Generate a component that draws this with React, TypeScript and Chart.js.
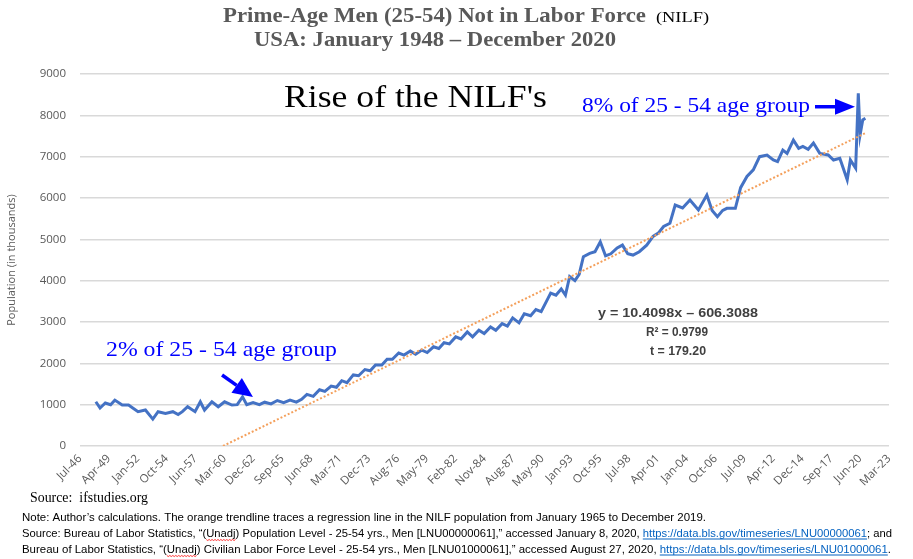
import { useEffect, useRef } from "react"
import { Chart, registerables } from "chart.js"

Chart.register(...registerables)

// Excel date axis: major unit of 1000 days starting Jul-46
const tickLabels = [
  "Jul-46", "Apr-49", "Jan-52", "Oct-54", "Jun-57", "Mar-60", "Dec-62", "Sep-65",
  "Jun-68", "Mar-71", "Dec-73", "Aug-76", "May-79", "Feb-82", "Nov-84", "Aug-87",
  "May-90", "Jan-93", "Oct-95", "Jul-98", "Apr-01", "Jan-04", "Oct-06", "Jul-09",
  "Apr-12", "Dec-14", "Sep-17", "Jun-20", "Mar-23",
]
const tickStart = 1946.5
const tickStep = 1000 / 365.25

// observation dates (decimal years) and NILF population, thousands
const obsYear = [
  1948.0, 1948.4, 1948.9, 1949.4, 1949.8, 1950.5, 1951.1, 1951.5, 1952.0, 1952.7,
  1953.4, 1953.9, 1954.6, 1955.3, 1955.8, 1956.2, 1956.7, 1957.4, 1957.9, 1958.3,
  1959.0, 1959.6, 1960.2, 1960.9, 1961.4, 1961.9, 1962.3, 1962.9, 1963.5, 1964.0,
  1964.6, 1965.2, 1965.8, 1966.4, 1967.0, 1967.5, 1968.0, 1968.6, 1969.2, 1969.7,
  1970.3, 1970.8, 1971.3, 1971.8, 1972.4, 1972.9, 1973.5, 1974.0, 1974.5, 1975.1,
  1975.6, 1976.1, 1976.7, 1977.2, 1977.8, 1978.3, 1978.9, 1979.4, 1980.0, 1980.5,
  1981.0, 1981.5, 1982.1, 1982.6, 1983.2, 1983.7, 1984.3, 1984.8, 1985.4, 1985.9,
  1986.5, 1987.0, 1987.5, 1988.1, 1988.6, 1989.2, 1989.7, 1990.2, 1990.7, 1991.1,
  1991.6, 1992.1, 1992.5, 1992.9, 1993.4, 1993.8, 1994.2, 1994.8, 1995.3, 1995.8,
  1996.3, 1996.8, 1997.4, 1997.9, 1998.4, 1998.9, 1999.5, 2000.2, 2000.8, 2001.3,
  2001.8, 2002.4, 2002.9, 2003.6, 2004.3, 2005.1, 2005.9, 2006.4, 2006.9, 2007.4,
  2007.8, 2008.6, 2009.1, 2009.7, 2010.3, 2010.9, 2011.6, 2012.2, 2012.6, 2013.1,
  2013.5, 2014.1, 2014.6, 2015.0, 2015.5, 2016.0, 2016.6, 2017.4, 2017.9, 2018.5,
  2019.2, 2019.5, 2020.0, 2020.25, 2020.42, 2020.67, 2020.92,
]
const nilfValues = [
  1070, 920, 1040, 1000, 1110, 990, 990, 920, 830, 870,
  650, 830, 790, 830, 760, 830, 950, 830, 1070, 870,
  1070, 950, 1070, 990, 1000, 1190, 1000, 1050, 1000, 1060,
  1020, 1100, 1050, 1110, 1060, 1130, 1250, 1200, 1360, 1320,
  1450, 1420, 1580, 1530, 1720, 1700, 1850, 1820, 1960, 1960,
  2100, 2100, 2250, 2200, 2300, 2220, 2320, 2260, 2400, 2360,
  2500, 2470, 2640, 2590, 2760, 2640, 2800, 2720, 2880, 2800,
  2960, 2900, 3100, 2980, 3200, 3150, 3300, 3250, 3500, 3700,
  3650, 3800, 3650, 4100, 4000, 4150, 4580, 4660, 4700, 4940,
  4600, 4650, 4790, 4860, 4650, 4620, 4700, 4860, 5070, 5150,
  5310, 5390, 5830, 5760, 5950, 5710, 6070, 5700, 5550, 5700,
  5750, 5750, 6250, 6520, 6680, 7000, 7040, 6920, 6880, 7160,
  7080, 7400, 7200, 7250, 7180, 7330, 7080, 7040, 6920, 6960,
  6440, 6920, 6720, 8535, 7530, 7890, 7930,
]

// orange regression trendline end points
const trendYear = [1960.05, 2020.92]
const trendValue = [0, 7570]

// annotation arrows in data space: [x0, y0, x1, y1]
const arrowTop = [2016.15, 8208, 2019.94, 8208]
const arrowLow = [1959.96, 1717, 1962.89, 1185]

type Seg = { text: string; color?: string; link?: boolean; squiggle?: boolean }

function drawLine(ctx: CanvasRenderingContext2D, segs: Seg[], x: number, y: number, font: string, color: string, width?: number) {
  ctx.font = font
  const total = segs.reduce((s, g) => s + ctx.measureText(g.text).width, 0)
  const sx = width ? width / total : 1
  ctx.save()
  ctx.translate(x, y)
  ctx.scale(sx, 1)
  ctx.textAlign = "left"
  ctx.textBaseline = "alphabetic"
  let cx = 0
  for (const g of segs) {
    const w = ctx.measureText(g.text).width
    ctx.fillStyle = g.color || color
    ctx.fillText(g.text, cx, 0)
    if (g.link) ctx.fillRect(cx, 1.5, w, 1)
    if (g.squiggle) {
      ctx.strokeStyle = "#ff0000"
      ctx.lineWidth = 0.8
      ctx.beginPath()
      for (let i = 0; i <= w; i += 1.5) {
        const yy = 2.5 + (Math.round(i / 1.5) % 2 ? 1 : 0)
        if (i === 0) ctx.moveTo(cx + i, yy)
        else ctx.lineTo(cx + i, yy)
      }
      ctx.stroke()
    }
    cx += w
  }
  ctx.restore()
}

function drawArrow(ctx: CanvasRenderingContext2D, x0: number, y0: number, x1: number, y1: number, head: number, half: number) {
  const a = Math.atan2(y1 - y0, x1 - x0)
  const bx = x1 - Math.cos(a) * head
  const by = y1 - Math.sin(a) * head
  ctx.save()
  ctx.strokeStyle = "#0000ff"
  ctx.fillStyle = "#0000ff"
  ctx.lineWidth = 3.5
  ctx.beginPath()
  ctx.moveTo(x0, y0)
  ctx.lineTo(bx, by)
  ctx.stroke()
  ctx.beginPath()
  ctx.moveTo(x1, y1)
  ctx.lineTo(bx + Math.sin(a) * half, by - Math.cos(a) * half)
  ctx.lineTo(bx - Math.sin(a) * half, by + Math.cos(a) * half)
  ctx.closePath()
  ctx.fill()
  ctx.restore()
}

const serif = "'Liberation Serif', 'Times New Roman', serif"
const sans = "'Liberation Sans', Arial, sans-serif"

const overlay = {
  id: "overlay",
  afterDraw(chart: Chart) {
    const ctx = chart.ctx
    const xs = chart.scales.x
    const ys = chart.scales.y

    // titles
    drawLine(ctx, [{ text: "Prime-Age Men (25-54) Not in Labor Force" }], 223, 22, `bold 21px ${serif}`, "#595959", 423)
    drawLine(ctx, [{ text: "(NILF)" }], 656, 22, `15px ${serif}`, "#000000", 53)
    drawLine(ctx, [{ text: "USA: January 1948 \u2013 December 2020" }], 254, 46, `bold 21px ${serif}`, "#595959", 362)

    // in-plot annotations
    drawLine(ctx, [{ text: "Rise of the NILF's" }], 284, 107, `31px ${serif}`, "#000000", 263)
    drawLine(ctx, [{ text: "8% of 25 - 54 age group" }], 582, 112, `22px ${serif}`, "#0000ff", 228)
    drawLine(ctx, [{ text: "2% of 25 - 54 age group" }], 106, 356, `22px ${serif}`, "#0000ff", 231)

    drawArrow(ctx, xs.getPixelForValue(arrowTop[0]), ys.getPixelForValue(arrowTop[1]),
      xs.getPixelForValue(arrowTop[2]), ys.getPixelForValue(arrowTop[3]), 20, 8)
    drawArrow(ctx, xs.getPixelForValue(arrowLow[0]), ys.getPixelForValue(arrowLow[1]),
      xs.getPixelForValue(arrowLow[2]), ys.getPixelForValue(arrowLow[3]), 20, 9)

    // regression stats
    const eq = `bold 12.5px ${sans}`
    drawLine(ctx, [{ text: "y = 10.4098x \u2013 606.3088" }], 598, 317, eq, "#404040", 160)
    drawLine(ctx, [{ text: "R\u00b2 = 0.9799" }], 646, 336, eq, "#404040", 62)
    drawLine(ctx, [{ text: "t = 179.20" }], 650, 355, eq, "#404040", 56)

    // source & notes
    drawLine(ctx, [{ text: "Source:  ifstudies.org" }], 30, 502, `14px ${serif}`, "#000000", 118)
    const nf = `11.5px ${sans}`
    const link = "#0563c1"
    drawLine(ctx, [{ text: "Note: Author\u2019s calculations. The orange trendline traces a regression line in the NILF population from January 1965 to December 2019." }],
      22, 521, nf, "#000000", 684)
    drawLine(ctx, [
      { text: "Source: Bureau of Labor Statistics, \u201c(" },
      { text: "Unadj", squiggle: true },
      { text: ") Population Level - 25-54 yrs., Men [LNU00000061],\u201d accessed January 8, 2020, " },
      { text: "https://data.bls.gov/timeseries/LNU00000061", color: link, link: true },
      { text: "; and" },
    ], 22, 537, nf, "#000000", 870)
    drawLine(ctx, [
      { text: "Bureau of Labor Statistics, \u201c(" },
      { text: "Unadj", squiggle: true },
      { text: ") Civilian Labor Force Level - 25-54 yrs., Men [LNU01000061],\u201d accessed August 27, 2020, " },
      { text: "https://data.bls.gov/timeseries/LNU01000061", color: link, link: true },
      { text: "." },
    ], 22, 553, nf, "#000000", 869)
  },
}

export default function App() {
  const chartRef = useRef<HTMLCanvasElement>(null)
  const chartInstance = useRef<Chart | null>(null)

  useEffect(() => {
    if (!chartRef.current) return
    if (chartInstance.current) chartInstance.current.destroy()

    const axisFont = { family: "'Open Sans', sans-serif", size: 11.5 }

    chartInstance.current = new Chart(chartRef.current, {
      type: "line",
      data: {
        datasets: [
          {
            label: "NILF",
            data: obsYear.map((x, i) => ({ x, y: nilfValues[i] })),
            borderColor: "#4472c4",
            borderWidth: 3,
            pointRadius: 0,
            tension: 0,
            order: 2,
          },
          {
            label: "Linear trend",
            data: trendYear.map((x, i) => ({ x, y: trendValue[i] })),
            borderColor: "#f4a05c",
            borderWidth: 2,
            borderDash: [2, 2],
            pointRadius: 0,
            order: 1,
          },
        ],
      },
      options: {
        animation: false,
        responsive: true,
        maintainAspectRatio: false,
        layout: { padding: { top: 74, right: 24, left: 0, bottom: 0 } },
        plugins: {
          legend: { display: false },
          tooltip: { enabled: false },
        },
        scales: {
          x: {
            type: "linear",
            min: tickStart,
            max: tickStart + (tickLabels.length - 1) * tickStep,
            afterBuildTicks: (scale: any) => {
              scale.ticks = tickLabels.map((_, i) => ({ value: tickStart + i * tickStep }))
            },
            afterFit: (scale: any) => {
              scale.height = 113
            },
            grid: { display: false, drawTicks: false },
            border: { display: false },
            ticks: {
              autoSkip: false,
              minRotation: 45,
              maxRotation: 45,
              padding: 6,
              color: "#595959",
              font: axisFont,
              callback: (_v: any, i: number) => tickLabels[i],
            },
          },
          y: {
            min: 0,
            max: 9000,
            afterFit: (scale: any) => {
              scale.width = 80
            },
            grid: { color: "#d9d9d9", lineWidth: 1.5, drawTicks: false },
            border: { display: false },
            ticks: {
              stepSize: 1000,
              padding: 14,
              color: "#595959",
              font: axisFont,
              callback: (v: any) => String(v),
            },
            title: {
              display: true,
              text: "Population (in thousands)",
              color: "#595959",
              font: { family: "'Open Sans', sans-serif", size: 11 },
              padding: { top: 5, bottom: 0 },
            },
          },
        },
      },
      plugins: [overlay],
    })

    return () => {
      if (chartInstance.current) {
        chartInstance.current.destroy()
        chartInstance.current = null
      }
    }
  }, [])

  return (
    <div style={{ position: "absolute", left: 0, top: 0, width: 913, height: 559, background: "#ffffff" }}>
      <canvas ref={chartRef} />
    </div>
  )
}
